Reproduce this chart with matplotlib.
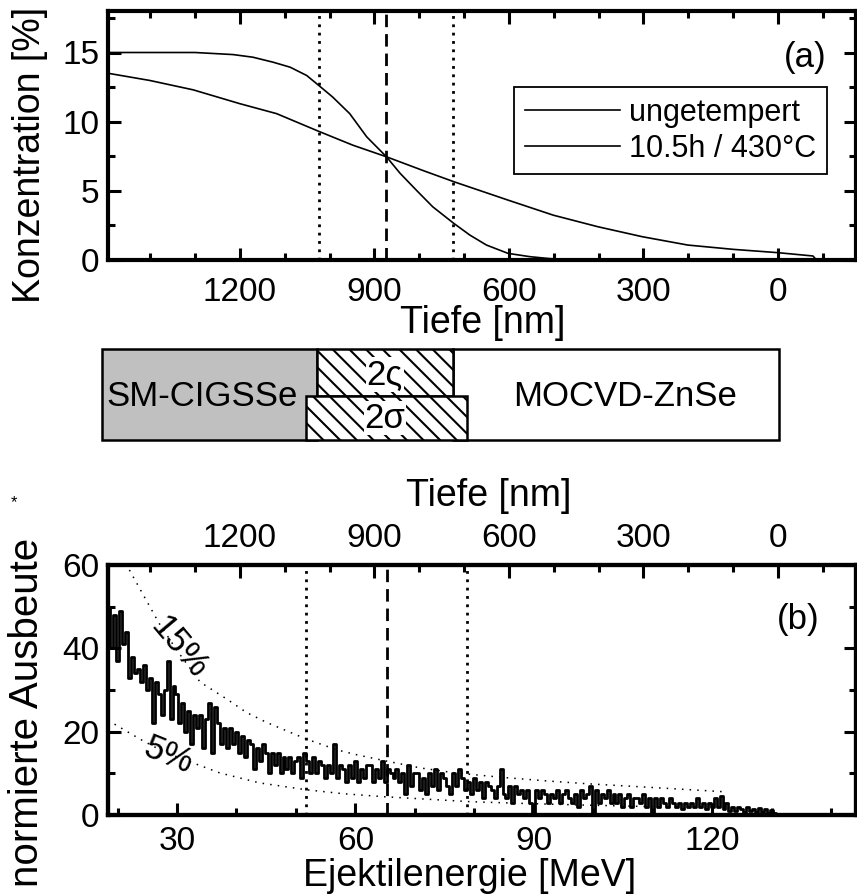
import numpy as np
import matplotlib
matplotlib.use('Agg')
import matplotlib.pyplot as plt
from matplotlib.patches import Rectangle
from matplotlib.ticker import MultipleLocator

plt.rcParams['font.family'] = ['Liberation Sans', 'DejaVu Sans']
plt.rcParams['hatch.linewidth'] = 1.5
plt.rcParams['hatch.color'] = 'black'

W, H = 857, 894

# ---- (a) Konzentrationsprofile (Tiefe in nm, Konzentration in %)
tiefe_unget = [1494, 1400, 1300, 1215, 1171, 1126, 1088, 1051, 1024, 993, 955, 917, 873,
               843, 805, 770, 723, 687, 650, 602, 553, 509, 450, 200, -82]
konz_unget = [15.0, 15.0, 15.0, 14.85, 14.66, 14.3, 13.94, 13.34, 12.62, 11.78, 10.58, 8.9, 7.46,
              6.28, 5.0, 3.85, 2.65, 1.8, 1.08, 0.48, 0.24, 0.1, 0.02, 0.0, 0.0]

tiefe_temp = [1494, 1401, 1304, 1200, 1118, 1024, 948, 873, 790, 722, 602, 501, 401,
              302, 201, 100, 0, -78, -86]
konz_temp = [13.5, 12.98, 12.3, 11.3, 10.58, 9.3, 8.3, 7.46, 6.45, 5.65, 4.33, 3.24, 2.4,
             1.68, 1.08, 0.77, 0.53, 0.29, 0.0]

linien_tiefe = [1024, 873, 724]   # Grenzen / Mitte der Interdiffusionszone

# ---- Schichtschema (Tiefe in nm)
cigs = (1507, 1027)
zone_2vs = (1027, 724)
zone_2s = (1053, 693)
znse = (724, -2)

# ---- (b) ERDA-Spektrum, Kanalbreite 0.5 MeV ab 18.5 MeV
e_start, e_step = 18.5, 0.5
ausbeute = [50, 40, 48, 37, 49, 41,
            44, 33, 38, 34,
            35, 32, 36, 30, 33,
            22, 32, 29, 24, 30,
            37, 23, 31, 29, 22,
            27, 20, 25, 17, 24,
            21, 24, 16, 23, 27,
            15, 26, 22, 17, 21,
            16, 21, 17, 20, 15,
            19, 14, 18, 17, 11,
            16, 13, 17, 15, 10,
            15, 12, 15, 10, 14,
            11, 14, 10, 13, 14,
            9, 15, 13, 10, 14,
            10, 13, 12, 9, 12,
            10, 17, 9, 12, 11,
            8, 12, 9, 13, 8,
            11, 9, 12, 12, 8,
            11, 9, 13, 8, 11,
            10, 9, 11, 8, 10,
            5, 12, 7, 10, 10,
            6, 9, 5, 10, 7,
            11, 6, 10, 9, 7,
            5, 10, 7, 11, 9,
            6, 8, 5, 9, 6,
            8, 4, 8, 7, 6,
            4, 7, 11, 5, 4,
            7, 3, 7, 5, 6,
            4, 6, 3, 0.5, 6,
            4, 6, 5, 3, 5,
            4, 6, 3, 5, 6,
            4, 3, 5, 2, 6,
            4, 5, 7, 0.5, 6,
            3, 5, 4, 6, 3,
            5, 3, 5, 2, 4,
            5, 2, 4, 4, 3,
            5, 2, 4, 0.5, 4,
            2, 4, 3, 2, 4,
            3, 2, 3, 1.5, 3,
            2, 3, 2, 4, 2,
            3, 1.5, 3, 2, 4,
            2, 4.5, 1.5, 3, 1,
            2, 1, 2, 1.5, 0.8,
            2, 1, 1.5, 0.7, 1.8,
            0.8, 1.5, 0.5, 1.2, 0.4,
            0.3, 0.3, 0.2, 0.3, 0.2, 0.1, 0]

e_15 = [22.0, 24.3, 27.0, 30.0, 33.9, 38.4, 41.7, 45.1, 51.8, 57.0, 60.1, 64.7, 70.9,
        76.8, 85.0, 92.0, 99.0, 110.0, 121.8]
y_15 = [58.8, 52.9, 46.0, 39.5, 31.9, 27.8, 24.6, 22.2, 18.2, 15.6, 14.5, 13.1, 11.3,
        10.1, 9.0, 8.2, 7.5, 6.6, 5.6]
e_5 = [19.5, 23.8, 28.0, 32.7, 37.2, 43.9, 51.8, 58.0, 64.7, 72.0, 79.3, 87.7, 98.0, 110.0]
y_5 = [21.8, 18.2, 15.0, 12.5, 10.1, 7.7, 6.05, 5.1, 4.4, 3.8, 3.2, 2.8, 2.4, 2.0]

linien_energie = [51.7, 65.3, 78.8]

tiefe_lim = (1494, -174)
energie_lim = (18.4, 144.2)


def rect(l, t, r, b):
    return [l / W, 1 - b / H, (r - l) / W, (b - t) / H]


def style(ax, pad_b=9, top=True):
    ax.tick_params(which='both', direction='in', right=True, top=top, width=2.2,
                   labelsize=24)
    ax.tick_params(which='major', length=9)
    ax.tick_params(which='minor', length=5)
    ax.tick_params(axis='x', pad=pad_b)
    ax.tick_params(axis='y', pad=6)
    for s in ax.spines.values():
        s.set_linewidth(3)


fig = plt.figure(figsize=(W / 100, H / 100), dpi=100)

# ---------------- (a)
ax1 = fig.add_axes(rect(108, 11, 856, 260))
ax1.plot(tiefe_unget, konz_unget, color='black', lw=1.2, label='ungetempert')
ax1.plot(tiefe_temp, konz_temp, color='black', lw=1.2, label='10.5h / 430°C')
for i, t in enumerate(linien_tiefe):
    ls = (0, (4.5, 2.5)) if i == 1 else (0, (1, 2))
    ax1.axvline(t, color='black', lw=2, ls=ls)
ax1.set_xlim(*tiefe_lim)
ax1.set_ylim(0, 18)
ax1.xaxis.set_major_locator(MultipleLocator(300))
ax1.xaxis.set_minor_locator(MultipleLocator(100))
ax1.yaxis.set_major_locator(MultipleLocator(5))
ax1.yaxis.set_minor_locator(MultipleLocator(2.5))
style(ax1, pad_b=12)
leg = ax1.legend(loc='upper right', bbox_to_anchor=(0.961, 0.695), fontsize=22,
                 frameon=True, fancybox=False, edgecolor='black', framealpha=1,
                 handlelength=3.1, handletextpad=0.3, labelspacing=0.2,
                 borderpad=0.35, borderaxespad=0)
leg.get_frame().set_linewidth(1.3)
fig.text(805 / W, 1 - 57 / H, '(a)', fontsize=25, ha='center', va='center')
fig.text(30 / W, 1 - 155 / H, 'Konzentration [%]', fontsize=27, rotation=90,
         ha='center', va='center')
fig.text(483 / W, 1 - 323 / H, 'Tiefe [nm]', fontsize=27, ha='center', va='center')

# ---------------- Schichtschema
axs = fig.add_axes(rect(108, 349, 856, 440))
axs.set_xlim(*tiefe_lim)
axs.set_ylim(0, 1)
axs.axis('off')
mitte = 0.48
axs.add_patch(Rectangle((min(cigs), 0), abs(cigs[0] - cigs[1]), 1, facecolor='#c0c0c0',
                        edgecolor='black', lw=1.8, clip_on=False))
axs.add_patch(Rectangle((min(znse), 0), abs(znse[0] - znse[1]), 1, facecolor='white',
                        edgecolor='black', lw=1.8, clip_on=False))
axs.add_patch(Rectangle((min(zone_2vs), mitte), abs(zone_2vs[0] - zone_2vs[1]), 1 - mitte,
                        facecolor='white', edgecolor='black', hatch='\\\\', lw=1.8,
                        clip_on=False))
axs.add_patch(Rectangle((min(zone_2s), 0), abs(zone_2s[0] - zone_2s[1]), mitte,
                        facecolor='white', edgecolor='black', hatch='\\\\', lw=1.8,
                        clip_on=False))
axs.text(1285, 0.48, 'SM-CIGSSe', fontsize=25, ha='center', va='center')
axs.text(340, 0.48, 'MOCVD-ZnSe', fontsize=25, ha='center', va='center')
box = dict(facecolor='white', edgecolor='none', pad=0.5)
axs.text(877, 0.72, '2ς', fontsize=25, ha='center', va='center', bbox=box)
axs.text(877, 0.24, '2σ', fontsize=25, ha='center', va='center', bbox=box)

# ---------------- (b)
ax2 = fig.add_axes(rect(108, 565, 856, 815))
energie = e_start + e_step * np.arange(len(ausbeute))
ax2.step(energie, ausbeute, where='mid', color='black', lw=2.0)
ax2.plot(e_15, y_15, color='black', lw=1.1, ls=(0, (1, 4)))
ax2.plot(e_5, y_5, color='black', lw=1.1, ls=(0, (1, 4)))
for i, e in enumerate(linien_energie):
    ls = (0, (4.5, 2.5)) if i == 1 else (0, (1, 2))
    ax2.axvline(e, color='black', lw=2, ls=ls)
ax2.set_xlim(*energie_lim)
ax2.set_ylim(0, 60)
ax2.xaxis.set_major_locator(MultipleLocator(30))
ax2.xaxis.set_minor_locator(MultipleLocator(10))
ax2.yaxis.set_major_locator(MultipleLocator(20))
ax2.yaxis.set_minor_locator(MultipleLocator(10))
style(ax2, pad_b=8, top=False)
ax2.text(30.3, 40.2, '15%', fontsize=25, rotation=-50, ha='center', va='center')
ax2.text(28.5, 14.3, '5%', fontsize=25, rotation=-22, ha='center', va='center')
fig.text(798 / W, 1 - 620 / H, '(b)', fontsize=25, ha='center', va='center')

ax3 = ax2.twiny()
ax3.set_xlim(*tiefe_lim)
ax3.xaxis.set_major_locator(MultipleLocator(300))
ax3.xaxis.set_minor_locator(MultipleLocator(100))
ax3.tick_params(which='both', direction='in', width=2.2, labelsize=24, pad=8)
ax3.tick_params(which='major', length=9)
ax3.tick_params(which='minor', length=5)
for s in ax3.spines.values():
    s.set_linewidth(3)

fig.text(489 / W, 1 - 496 / H, 'Tiefe [nm]', fontsize=27, ha='center', va='center')
fig.text(470 / W, 1 - 876 / H, 'Ejektilenergie [MeV]', fontsize=27, ha='center', va='center')
fig.text(27 / W, 1 - 712 / H, 'normierte Ausbeute', fontsize=29, rotation=90,
         ha='center', va='center')
fig.text(14 / W, 1 - 503 / H, '*', fontsize=12, ha='center', va='center')

fig.savefig('out.png', dpi=100)
